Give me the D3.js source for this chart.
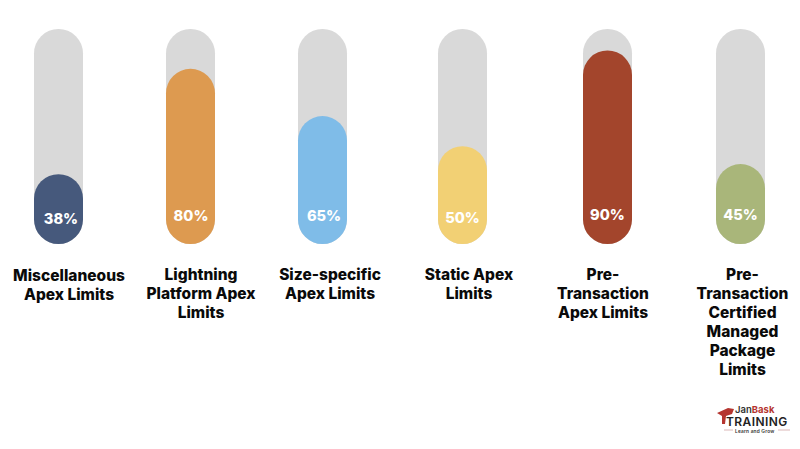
<!DOCTYPE html>
<html lang="en">

<head>
    <meta charset="UTF-8" />
    <title>Apex Limits</title>
    <script src="https://d3js.org/d3.v7.min.js"></script>
    <style>
        html, body {
            margin: 0;
            background: #fff;
        }

        svg {
            display: block;
        }

        text {
            font-family: Inter, sans-serif;
            font-weight: 800;
        }
    </style>
</head>

<body>
    <div id="chart"></div>

    <script>
        // one entry per line of the wrapped label
        const categories = [
            ["Miscellaneous", "Apex Limits"],
            ["Lightning", "Platform Apex", "Limits"],
            ["Size-specific", "Apex Limits"],
            ["Static Apex", "Limits"],
            ["Pre-", "Transaction", "Apex Limits"],
            ["Pre-", "Transaction", "Certified", "Managed", "Package", "Limits"]
        ];
        const percentLabels = [38, 80, 65, 50, 90, 45];
        // the drawn fill heights don't follow the printed numbers (% of track)
        const fillLevels = [32.5, 81.5, 59.5, 45.5, 90, 37.2];

        const barColors = ["#46597c", "#dd9a50", "#7fbce8", "#f2d074", "#a3452c", "#a9b67a"];
        const barCentres = [58.5, 190.5, 322.5, 462.5, 607.5, 740.5];
        const labelCentres = [69, 201, 330, 469, 603, 742.5];

        const width = 800;
        const height = 449;
        const barWidth = 49;
        const trackTop = 29;
        const trackBottom = 244;

        const svg = d3.select("#chart")
            .append("svg")
            .attr("width", width)
            .attr("height", height);

        const y = d3.scaleLinear().domain([0, 100]).range([trackBottom, trackTop]);
        const indexes = d3.range(categories.length);
        const barX = d3.scaleOrdinal(indexes, barCentres);
        const labelX = d3.scaleOrdinal(indexes, labelCentres);
        const color = d3.scaleOrdinal(indexes, barColors);

        const columns = svg.selectAll("g.column")
            .data(indexes)
            .join("g")
            .attr("class", "column");

        columns.append("rect")
            .attr("x", i => barX(i) - barWidth / 2)
            .attr("y", y(100))
            .attr("width", barWidth)
            .attr("height", y(0) - y(100))
            .attr("rx", barWidth / 2)
            .attr("fill", "#d9d9d9");

        columns.append("rect")
            .attr("x", i => barX(i) - barWidth / 2)
            .attr("y", i => y(fillLevels[i]))
            .attr("width", barWidth)
            .attr("height", i => y(0) - y(fillLevels[i]))
            .attr("rx", barWidth / 2)
            .attr("fill", i => color(i));

        const valueDx = [2.5, 0.5, 1.5, 0, 0, 0];
        const valueY = [223.5, 221, 221, 223, 220, 220];
        columns.append("text")
            .attr("x", i => barX(i) + valueDx[i])
            .attr("y", i => valueY[i])
            .attr("text-anchor", "middle")
            .attr("font-size", 14.6)
            .attr("fill", "#fff")
            .style("font-weight", 800)
            .text(i => percentLabels[i] + "%");

        const labelTop = [281, 280, 280, 280, 280, 280];
        columns.each(function (i) {
            const label = d3.select(this).append("text")
                .attr("text-anchor", "middle")
                .attr("font-size", 15.5)
                .attr("fill", "#0a0a0a");
            categories[i].forEach((line, k) => {
                label.append("tspan")
                    .attr("x", labelX(i))
                    .attr("y", labelTop[i] + k * 19)
                    .text(line);
            });
        });

        // logo, bottom right
        const logo = svg.append("g").attr("transform", "translate(716, 405)");
        logo.append("path")
            .attr("d", "M1,8 L12,3 L18,4 L16,9 L10,11 L9,19 L6,19 L6,11 Z")
            .attr("fill", "#b5352f");
        const logoText = logo.append("text").style("font-weight", 600);
        logoText.append("tspan").attr("x", 19).attr("y", 8).attr("font-size", 9.5)
            .attr("fill", "#333").text("Jan");
        logoText.append("tspan").attr("font-size", 9.5)
            .attr("fill", "#b5352f").style("font-weight", 700).text("Bask");
        logoText.append("tspan").attr("x", 10).attr("y", 20.5).attr("font-size", 12)
            .attr("letter-spacing", 0.4).attr("fill", "#222").text("TRAINING");
        logoText.append("tspan").attr("x", 19).attr("y", 28).attr("font-size", 4.8)
            .attr("letter-spacing", 0.2).attr("fill", "#333").text("Learn and Grow");
        logo.selectAll("line.rule")
            .data([[8, 17], [62, 74]])
            .join("line")
            .attr("class", "rule")
            .attr("x1", d => d[0])
            .attr("x2", d => d[1])
            .attr("y1", 25)
            .attr("y2", 25)
            .attr("stroke", "#c99")
            .attr("stroke-width", 0.7);
    </script>
</body>

</html>
